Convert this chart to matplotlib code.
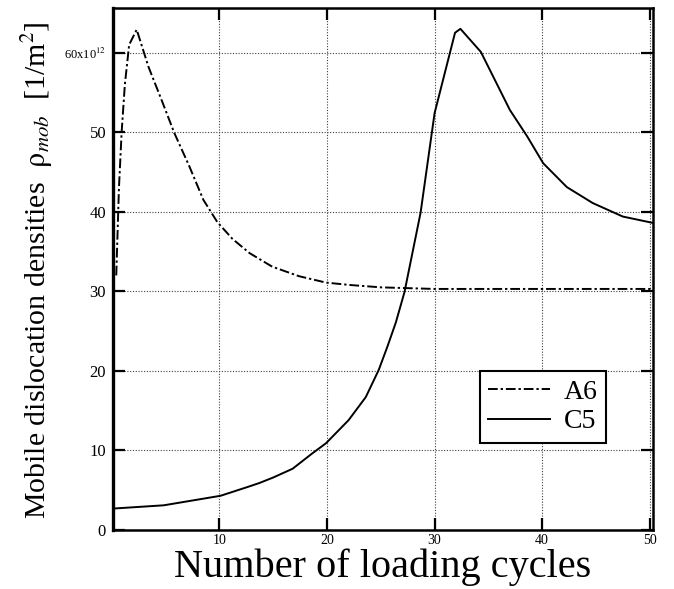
import matplotlib
matplotlib.use('Agg')
import matplotlib.pyplot as plt

plt.rcParams['font.family'] = ['Liberation Serif', 'DejaVu Serif']
plt.rcParams['mathtext.fontset'] = 'stix'

# Data
a6_x = [0.4, 0.65, 0.9, 1.2, 1.6, 2.3, 3.4, 4.6, 5.8, 7.2, 8.5, 9.8, 11.2, 12.8,
        14.9, 17.4, 19.9, 22.1, 25.0, 30.0, 40.0, 50.3]
a6_y = [32.0, 43.0, 50.0, 56.0, 61.0, 62.9, 58.2, 54.1, 49.9, 45.7, 41.5, 38.7, 36.6, 34.8,
        33.1, 31.9, 31.1, 30.8, 30.5, 30.3, 30.3, 30.3]

c5_x = [0.2, 2.5, 4.8, 7.9, 10.1, 12.6, 13.7, 15.0, 16.8, 18.6, 19.9, 22.0, 23.6, 24.8,
        25.6, 26.4, 27.2, 28.7, 30.0, 31.9, 32.4, 34.3, 37.0, 38.6, 40.1, 42.3, 44.7, 47.5, 50.3]
c5_y = [2.7, 2.9, 3.1, 3.8, 4.3, 5.4, 5.9, 6.6, 7.7, 9.6, 10.9, 13.8, 16.7, 20.1,
        23.0, 26.1, 29.9, 39.9, 52.4, 62.5, 63.0, 60.1, 52.8, 49.5, 46.1, 43.1, 41.1, 39.4, 38.6]

series_labels = ['A6', 'C5']
x_ticks = [10, 20, 30, 40, 50]
x_tick_labels = ['10', '20', '30', '40', '50']
y_ticks = [0, 10, 20, 30, 40, 50, 60]
y_tick_labels = ['0', '10', '20', '30', '40', '50', r'60x10$^{12}$']

fig = plt.figure(figsize=(6.74, 5.89), dpi=100)
ax = fig.add_axes([0.1677, 0.1002, 0.801, 0.886])

ax.plot(a6_x, a6_y, color='black', lw=1.4, linestyle=(0, (5, 1.5, 1.2, 1.5)),
        label=series_labels[0])
ax.plot(c5_x, c5_y, color='black', lw=1.4, linestyle='-', label=series_labels[1])

ax.set_xlim(0.1, 50.3)
ax.set_ylim(0, 65.6)

ax.set_xticks(x_ticks)
ax.set_xticklabels(x_tick_labels)
ax.set_yticks(y_ticks)
ax.set_yticklabels(y_tick_labels)

ax.grid(True, color='0.25', lw=0.8, linestyle=(0, (1, 1.5)))

ax.tick_params(direction='in', length=8.5, width=1.6, top=True, right=True)
ax.tick_params(axis='x', labelsize=10, pad=3)
ax.tick_params(axis='y', labelsize=12, pad=5)
ax.get_yticklabels()[-1].set_fontsize(9)

for side in ['top', 'right', 'bottom']:
    ax.spines[side].set_linewidth(1.8)
ax.spines['left'].set_linewidth(2.4)

ax.set_xlabel('Number of loading cycles', fontsize=29)
ax.xaxis.set_label_coords(0.5, -0.036)
ax.set_ylabel(r'Mobile dislocation densities  $\mathrm{\rho}_{mob}$  [1/m$^2$]', fontsize=21.5)
ax.yaxis.set_label_coords(-0.108, 0.497)

leg = ax.legend(loc='lower left', bbox_to_anchor=(0.68, 0.167), borderaxespad=0,
                fontsize=20, frameon=True, fancybox=False, edgecolor='black',
                framealpha=1, handlelength=2.2, handletextpad=0.5,
                labelspacing=0.15, borderpad=0.3)
leg.get_frame().set_linewidth(1.5)

fig.savefig('out.png', dpi=100)
